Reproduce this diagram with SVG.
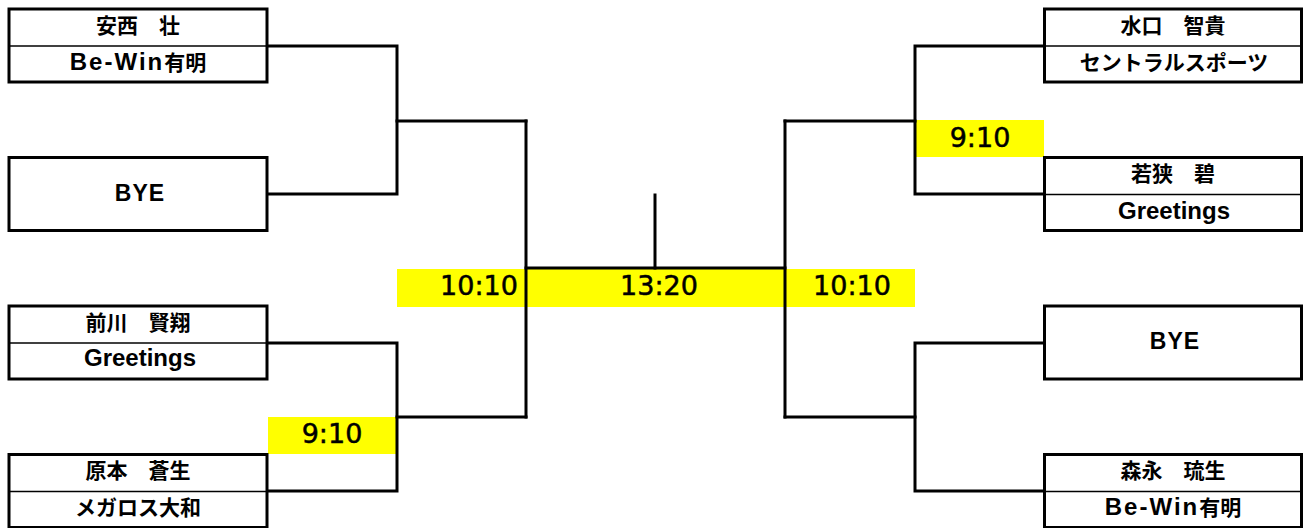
<svg xmlns="http://www.w3.org/2000/svg" width="1306" height="528" viewBox="0 0 1306 528">
<style>
.box{fill:#fff;stroke:#000;stroke-width:3}
.div{stroke:#000;stroke-width:1.5}
.hl{fill:#ffff00}
.con{fill:none;stroke:#000;stroke-width:3;stroke-linejoin:miter;stroke-linecap:square}
.name{font-family:"Noto Sans CJK JP",sans-serif;font-weight:700;font-size:21px;text-anchor:middle;fill:#000}
.team{font-family:"Noto Sans CJK JP",sans-serif;font-weight:700;font-size:21px;text-anchor:middle;fill:#000}
.lat{font-family:"Liberation Sans","Noto Sans CJK JP",sans-serif;font-weight:700;font-size:24px}
.bye{font-family:"Liberation Sans",sans-serif;font-weight:700;font-size:23px;letter-spacing:1px;text-anchor:middle;fill:#000}
.score{font-family:"DejaVu Sans",sans-serif;font-size:27px;text-anchor:middle;fill:#000;stroke:#000;stroke-width:0.5}
</style>
<g id="scores-bg">
<rect class="hl" x="268" y="417" width="129" height="37"/>
<rect class="hl" x="915" y="120" width="129" height="37"/>
<rect class="hl" x="397" y="269" width="129" height="38"/>
<rect class="hl" x="526" y="269" width="259" height="38"/>
<rect class="hl" x="785" y="269" width="130" height="38"/>
</g>
<g id="connectors">
<path class="con" d="M268 46 H397 V194 H268"/>
<path class="con" d="M397 121 H526"/>
<path class="con" d="M268 343 H397 V491 H268"/>
<path class="con" d="M397 417 H526"/>
<path class="con" d="M526 121 V417"/>
<path class="con" d="M526 268 H785"/>
<path class="con" d="M655 195 V268"/>
<path class="con" d="M785 121 V417"/>
<path class="con" d="M1044 46 H915 V194 H1044"/>
<path class="con" d="M915 121 H785"/>
<path class="con" d="M1044 343 H915 V491 H1044"/>
<path class="con" d="M915 417 H785"/>
</g>
<g id="score-texts">
<text class="score" x="332" y="443">9:10</text>
<text class="score" x="980" y="147">9:10</text>
<text class="score" x="479" y="295">10:10</text>
<text class="score" x="659" y="295">13:20</text>
<text class="score" x="852" y="295">10:10</text>
</g>
<g id="node-anzai">
<rect class="box" x="9" y="9" width="258" height="73"/>
<line class="div" x1="9" y1="46" x2="267" y2="46"/>
<text class="name" x="138" y="33">安西　壮</text>
<text class="team" x="138" y="70"><tspan class="lat" letter-spacing="2">Be-Win</tspan>有明</text>
</g>
<g id="node-bye-left">
<rect class="box" x="9" y="157.5" width="258" height="73"/>
<text class="bye" x="140" y="200.5">BYE</text>
</g>
<g id="node-maekawa">
<rect class="box" x="9" y="306" width="258" height="73"/>
<line class="div" x1="9" y1="343" x2="267" y2="343"/>
<text class="name" x="138" y="329.5">前川　賢翔</text>
<text class="team lat" x="140" y="366">Greetings</text>
</g>
<g id="node-haramoto">
<rect class="box" x="9" y="454.5" width="258" height="73"/>
<line class="div" x1="9" y1="491.5" x2="267" y2="491.5"/>
<text class="name" x="138" y="478">原本　蒼生</text>
<text class="team" x="138" y="515">メガロス大和</text>
</g>
<g id="node-mizuguchi">
<rect class="box" x="1044.5" y="9" width="257" height="73"/>
<line class="div" x1="1044.5" y1="46" x2="1301.5" y2="46"/>
<text class="name" x="1173" y="33">水口　智貴</text>
<text class="team" x="1174" y="70">セントラルスポーツ</text>
</g>
<g id="node-wakasa">
<rect class="box" x="1044.5" y="157.5" width="257" height="73"/>
<line class="div" x1="1044.5" y1="194.5" x2="1301.5" y2="194.5"/>
<text class="name" x="1173" y="181">若狭　碧</text>
<text class="team lat" x="1174" y="218.5">Greetings</text>
</g>
<g id="node-bye-right">
<rect class="box" x="1044.5" y="306" width="257" height="73"/>
<text class="bye" x="1175" y="349">BYE</text>
</g>
<g id="node-morinaga">
<rect class="box" x="1044.5" y="454.5" width="257" height="73"/>
<line class="div" x1="1044.5" y1="491.5" x2="1301.5" y2="491.5"/>
<text class="name" x="1173" y="478">森永　琉生</text>
<text class="team" x="1173" y="515"><tspan class="lat" letter-spacing="2">Be-Win</tspan>有明</text>
</g>
</svg>
